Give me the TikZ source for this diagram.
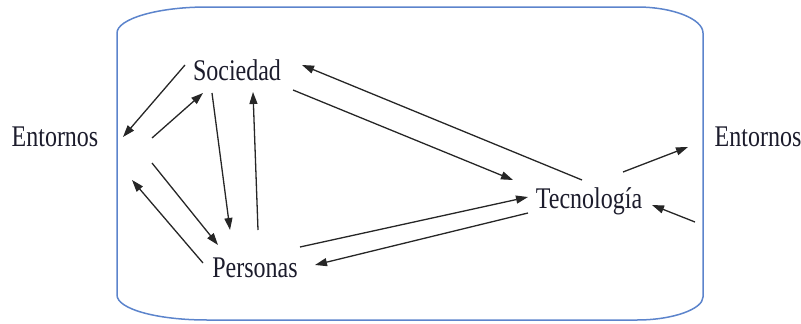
\documentclass[tikz,border=0pt]{standalone}
\usepackage{fontspec}
\setmainfont{Liberation Serif}
\newfontfamily\tallserif[FakeStretch=0.8]{Liberation Serif}
\usetikzlibrary{arrows.meta}
\definecolor{frameblue}{RGB}{92,132,204}
\definecolor{inkdark}{RGB}{28,28,44}
\tikzset{
  lbl/.style={inner sep=0pt, font=\tallserif\fontsize{30}{34}\selectfont, text=inkdark},
  link/.style={line width=1.3pt, draw=black!85, -{Triangle[length=12pt,width=8pt]}},
  frame/.style={line width=1.5pt, draw=frameblue}
}
\begin{document}
\begin{tikzpicture}[x=1pt,y=-1pt]
  \useasboundingbox (0,0) rectangle (801,324);

  % enclosing system boundary
  \draw[frame] (207,7) -- (637,7) .. controls (673,7) and (703,19) .. (703,33)
    -- (703,297) .. controls (703,309) and (673,320) .. (637,320)
    -- (207,320) .. controls (157,320) and (117,309) .. (117,295)
    -- (117,33) .. controls (117,19) and (157,7) .. (207,7) -- cycle;

  % labels
  \node[lbl] (entL) at (55,137) {Entornos};
  \node[lbl] (soc)  at (237,70) {Sociedad};
  \node[lbl] (per)  at (255,268) {Personas};
  \node[lbl] (tec)  at (589,201) {Tecnología};
  \node[lbl] (entR) at (758,137) {Entornos};

  % connector end points
  \coordinate (a1) at (185,65);  \coordinate (a2) at (123,137);
  \coordinate (b1) at (152,138); \coordinate (b2) at (203,93);
  \coordinate (c1) at (212,93);  \coordinate (c2) at (230,230);
  \coordinate (d1) at (258,230); \coordinate (d2) at (253,92);
  \coordinate (e1) at (152,163); \coordinate (e2) at (218,245);
  \coordinate (f1) at (203,263); \coordinate (f2) at (132,180);
  \coordinate (g1) at (293,90);  \coordinate (g2) at (513,180);
  \coordinate (h1) at (582,180); \coordinate (h2) at (302,65);
  \coordinate (i1) at (300,247); \coordinate (i2) at (528,197);
  \coordinate (j1) at (528,213); \coordinate (j2) at (315,265);
  \coordinate (k1) at (623,172); \coordinate (k2) at (688,147);
  \coordinate (l1) at (695,222); \coordinate (l2) at (652,205);

  % relations
  \draw[link] (a1) -- (a2);
  \draw[link] (b1) -- (b2);
  \draw[link] (c1) -- (c2);
  \draw[link] (d1) -- (d2);
  \draw[link] (e1) -- (e2);
  \draw[link] (f1) -- (f2);
  \draw[link] (g1) -- (g2);
  \draw[link] (h1) -- (h2);
  \draw[link] (i1) -- (i2);
  \draw[link] (j1) -- (j2);
  \draw[link] (k1) -- (k2);
  \draw[link] (l1) -- (l2);
\end{tikzpicture}
\end{document}
